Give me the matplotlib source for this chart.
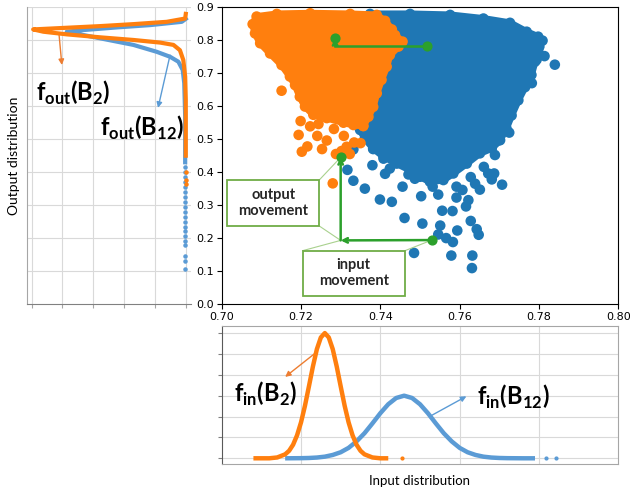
import matplotlib.pyplot as plt
from matplotlib.patches import Rectangle

plt.rcParams["mathtext.fontset"] = "custom"
plt.rcParams["mathtext.bf"] = "Lato:bold"
plt.rcParams["mathtext.rm"] = "Lato"

# colours
c_orange = "#ff7f0e"
c_blue = "#1f77b4"
c_orange_d = "#ff7f0e"
c_blue_d = "#5b9bd5"
c_green = "#2ca02c"
c_box = "#70ad47"
c_grid = "#d9d9d9"

# ---- scatter data ----
# dense part of each cloud, outline
b2_out_x = [0.7078, 0.7088, 0.7139, 0.7223, 0.7324, 0.7391, 0.7412, 0.7429, 0.7437,
            0.7456, 0.7446, 0.7424, 0.7416, 0.7403, 0.7391, 0.7382, 0.7370, 0.7357,
            0.7332, 0.7307, 0.7265, 0.7231, 0.7210, 0.7197, 0.7185, 0.7172, 0.7151,
            0.7122, 0.7097, 0.7084]
b2_out_y = [0.849, 0.872, 0.880, 0.882, 0.880, 0.877, 0.859, 0.833, 0.816,
            0.796, 0.781, 0.755, 0.720, 0.680, 0.639, 0.598, 0.568, 0.540,
            0.543, 0.550, 0.564, 0.574, 0.599, 0.629, 0.664, 0.690, 0.725,
            0.760, 0.791, 0.821]
# loose points
b2_pts_x = [0.7151, 0.7199, 0.7194, 0.7216, 0.7202, 0.7241, 0.7265, 0.7253, 0.7283,
            0.7308, 0.7315, 0.7334, 0.7350, 0.7357, 0.7288, 0.7323, 0.7280, 0.7223,
            0.7244, 0.7302]
b2_pts_y = [0.647, 0.555, 0.513, 0.478, 0.462, 0.510, 0.496, 0.470, 0.531,
            0.510, 0.477, 0.490, 0.488, 0.540, 0.455, 0.455, 0.366, 0.539,
            0.546, 0.464]

b12_out_x = [0.7374, 0.7475, 0.7576, 0.7660, 0.7727, 0.7769, 0.7798, 0.7809, 0.7798,
             0.7790, 0.7781, 0.7765, 0.7748, 0.7731, 0.7718, 0.7702, 0.7681, 0.7651,
             0.7618, 0.7584, 0.7559, 0.7525, 0.7500, 0.7475, 0.7441, 0.7408, 0.7382,
             0.7361, 0.7349, 0.7366, 0.7382, 0.7395, 0.7382]
b12_out_y = [0.880, 0.880, 0.877, 0.866, 0.853, 0.826, 0.811, 0.799, 0.771,
             0.735, 0.695, 0.658, 0.618, 0.572, 0.533, 0.497, 0.472, 0.457,
             0.426, 0.396, 0.376, 0.371, 0.386, 0.406, 0.426, 0.447, 0.472,
             0.502, 0.528, 0.579, 0.669, 0.770, 0.861]
b12_pts_x = [0.7332, 0.7317, 0.7332, 0.7361, 0.7382, 0.7380, 0.7408, 0.7412, 0.7424,
             0.7399, 0.7429, 0.7456, 0.7461, 0.7471, 0.7487, 0.7503, 0.7506, 0.7485,
             0.7532, 0.7546, 0.7556, 0.7551, 0.7546, 0.7566, 0.7579, 0.7583, 0.7582,
             0.7594, 0.7592, 0.7592, 0.7607, 0.7616, 0.7622, 0.7628, 0.7632, 0.7631,
             0.7643, 0.7648, 0.7628, 0.7639, 0.7651, 0.7661, 0.7672, 0.7681, 0.7687,
             0.7689, 0.7707, 0.7709, 0.7725, 0.7695, 0.7700, 0.7794, 0.7814, 0.7840,
             0.7801, 0.7782, 0.7769]
b12_pts_y = [0.469, 0.407, 0.374, 0.350, 0.470, 0.421, 0.441, 0.395, 0.411,
             0.317, 0.310, 0.356, 0.261, 0.393, 0.380, 0.327, 0.244, 0.155,
             0.356, 0.332, 0.283, 0.238, 0.211, 0.200, 0.147, 0.188, 0.282,
             0.223, 0.323, 0.356, 0.346, 0.296, 0.315, 0.252, 0.147, 0.109,
             0.227, 0.210, 0.385, 0.365, 0.347, 0.416, 0.396, 0.378, 0.396,
             0.452, 0.362, 0.589, 0.520, 0.528, 0.497, 0.741, 0.752, 0.726,
             0.781, 0.670, 0.705]

# ---- input distributions (bottom panel) ----
fin_b2_x = [0.708, 0.712, 0.714, 0.716, 0.717, 0.718, 0.719, 0.720, 0.721, 0.722,
            0.723, 0.724, 0.725, 0.726, 0.727, 0.728, 0.729, 0.730, 0.731, 0.732,
            0.733, 0.734, 0.735, 0.736, 0.738, 0.740, 0.742]
fin_b2_y = [0.0, 0.0, 0.04, 0.19, 0.36, 0.65, 1.10, 1.72, 2.52, 3.45,
            4.40, 5.23, 5.79, 6.0, 5.79, 5.23, 4.40, 3.45, 2.52, 1.72,
            1.10, 0.65, 0.36, 0.19, 0.04, 0.0, 0.0]
fin_b12_x = [0.716, 0.720, 0.722, 0.724, 0.726, 0.728, 0.730, 0.732, 0.734, 0.736,
             0.738, 0.740, 0.742, 0.744, 0.746, 0.748, 0.750, 0.752, 0.754, 0.756,
             0.758, 0.760, 0.762, 0.764, 0.766, 0.768, 0.770, 0.772, 0.776, 0.779]
fin_b12_y = [0.0, 0.006, 0.015, 0.036, 0.078, 0.16, 0.29, 0.50, 0.81, 1.20,
             1.67, 2.16, 2.59, 2.89, 3.0, 2.89, 2.59, 2.16, 1.67, 1.20,
             0.81, 0.50, 0.29, 0.16, 0.078, 0.036, 0.015, 0.006, 0.0, 0.0]
fin_b2_tail = [0.7454]
fin_b12_tail = [0.7818, 0.7843]

# ---- output distributions (left panel) ----
fout_b2_u = [0.0, 0.02, 0.62, 1.70, 2.78, 3.86, 4.95, 4.62, 3.86, 2.78, 1.70, 0.83,
             0.40, 0.19, 0.08, 0.02, 0.0, 0.0]
fout_b2_y = [0.880, 0.866, 0.856, 0.849, 0.843, 0.838, 0.833, 0.826, 0.818, 0.809,
             0.801, 0.793, 0.786, 0.770, 0.740, 0.690, 0.620, 0.450]
fout_b12_u = [0.0, 0.13, 1.16, 2.24, 3.32, 3.86, 3.32, 2.78, 1.70, 0.94, 0.51, 0.24,
              0.10, 0.05, 0.02, 0.02]
fout_b12_y = [0.865, 0.856, 0.846, 0.839, 0.831, 0.826, 0.816, 0.806, 0.786, 0.765,
              0.750, 0.735, 0.710, 0.670, 0.570, 0.430]
fout_b2_tail = [0.40, 0.375, 0.365]
fout_b12_tail = [0.415, 0.40, 0.385, 0.37, 0.355, 0.34, 0.325, 0.31, 0.295, 0.28,
                 0.265, 0.25, 0.235, 0.22, 0.205, 0.19, 0.18, 0.146, 0.131, 0.105]

fig = plt.figure(figsize=(6.3, 4.88), dpi=100)

# main scatter
ax = fig.add_axes([0.3519, 0.377, 0.6295, 0.608])
ax.fill(b12_out_x, b12_out_y, color=c_blue, lw=5, joinstyle="round", zorder=2)
ax.scatter(b12_out_x + b12_pts_x, b12_out_y + b12_pts_y, s=58, color=c_blue,
           edgecolors="none", zorder=2)
ax.fill(b2_out_x, b2_out_y, color=c_orange, lw=5, joinstyle="round", zorder=3)
ax.scatter(b2_out_x + b2_pts_x, b2_out_y + b2_pts_y, s=58, color=c_orange,
           edgecolors="none", zorder=3)
ax.set_xlim(0.70, 0.80)
ax.set_ylim(0.0, 0.9)
ax.set_xticks([0.70, 0.72, 0.74, 0.76, 0.78, 0.80])
ax.set_xticklabels(["0.70", "0.72", "0.74", "0.76", "0.78", "0.80"])
ax.set_yticks([0.0, 0.1, 0.2, 0.3, 0.4, 0.5, 0.6, 0.7, 0.8, 0.9])
ax.set_yticklabels(["0.0", "0.1", "0.2", "0.3", "0.4", "0.5", "0.6", "0.7", "0.8", "0.9"])
ax.tick_params(labelsize=8, length=3.5, width=0.8, pad=2)

# green movement arrows
ax.plot([0.7517, 0.7286], [0.783, 0.783], color=c_green, lw=1.8, zorder=5)
ax.annotate("", xy=(0.7286, 0.806), xytext=(0.7286, 0.783),
            arrowprops=dict(arrowstyle="->", color=c_green, lw=1.8, shrinkA=0, shrinkB=0,
                            mutation_scale=8), zorder=5)
ax.scatter([0.7286, 0.7517], [0.806, 0.783], s=40, color=c_green, zorder=6)

ax.annotate("", xy=(0.7300, 0.193), xytext=(0.7530, 0.194),
            arrowprops=dict(arrowstyle="->", color=c_green, lw=1.8, shrinkA=0, shrinkB=0,
                            mutation_scale=8), zorder=5)
ax.annotate("", xy=(0.7300, 0.445), xytext=(0.7300, 0.193),
            arrowprops=dict(arrowstyle="->", color=c_green, lw=1.8, shrinkA=0, shrinkB=0,
                            mutation_scale=8), zorder=5)
ax.scatter([0.7300, 0.7530], [0.445, 0.194], s=40, color=c_green, zorder=6)

# callout boxes
ax.plot([0.7246, 0.7300], [0.3762, 0.445], color="#a9d18e", lw=0.8, zorder=4)
ax.plot([0.7246, 0.7300], [0.2367, 0.193], color="#a9d18e", lw=0.8, zorder=4)
ax.plot([0.7204, 0.7300], [0.1618, 0.193], color="#a9d18e", lw=0.8, zorder=4)
ax.plot([0.7462, 0.7530], [0.1618, 0.194], color="#a9d18e", lw=0.8, zorder=4)
ax.add_patch(Rectangle((0.7014, 0.2367), 0.0232, 0.1395, facecolor="white",
                       edgecolor=c_box, lw=1.3, zorder=7))
ax.add_patch(Rectangle((0.7204, 0.0244), 0.0258, 0.1374, facecolor="white",
                       edgecolor=c_box, lw=1.3, zorder=7))
ax.text(0.7130, 0.3065, "output\nmovement", ha="center", va="center", fontsize=10.5,
        family="Lato", fontweight="bold", color="#262626", linespacing=1.2, zorder=8)
ax.text(0.7333, 0.093, "input\nmovement", ha="center", va="center", fontsize=10.5,
        family="Lato", fontweight="bold", color="#262626", linespacing=1.2, zorder=8)

# left panel: output distribution
axl = fig.add_axes([0.0429, 0.377, 0.2603, 0.608])
axl.plot(fout_b12_u, fout_b12_y, color=c_blue_d, lw=3, solid_joinstyle="round", zorder=3)
axl.scatter([0.02] * len(fout_b12_tail), fout_b12_tail, s=5, color=c_blue_d, zorder=3)
axl.plot(fout_b2_u, fout_b2_y, color=c_orange_d, lw=3, solid_joinstyle="round", zorder=4)
axl.scatter([0.0] * len(fout_b2_tail), fout_b2_tail, s=5, color=c_orange_d, zorder=4)
axl.set_xlim(5.15, -0.17)
axl.set_ylim(0.0, 0.9)
axl.set_xticks([0, 1, 2, 3, 4, 5])
axl.set_yticks([0.1, 0.2, 0.3, 0.4, 0.5, 0.6, 0.7, 0.8, 0.9])
axl.grid(True, color=c_grid, lw=0.8)
axl.set_axisbelow(True)
axl.tick_params(labelbottom=False, labelleft=False, left=False, length=3, color="#a6a6a6")
for s in ["top", "right"]:
    axl.spines[s].set_visible(False)
axl.spines["left"].set_color("#a6a6a6")
axl.spines["bottom"].set_color("#808080")
axl.set_ylabel("Output distribution", family="Lato", fontsize=10, labelpad=5)

axl.annotate("", xy=(4.02, 0.725), xytext=(4.11, 0.816),
             arrowprops=dict(arrowstyle="-|>", color="#ed7d31", lw=1, mutation_scale=8,
                             shrinkA=0, shrinkB=0))
axl.annotate("", xy=(0.90, 0.595), xytext=(0.51, 0.755),
             arrowprops=dict(arrowstyle="-|>", color=c_blue_d, lw=1, mutation_scale=8,
                             shrinkA=0, shrinkB=0))
fig.text(0.1159, 0.8094, r"$\mathbf{f}_{\mathbf{out}}\mathbf{(B}_{\mathbf{2}}\mathbf{)}$",
         ha="center", va="center", fontsize=17)
fig.text(0.2254, 0.7377, r"$\mathbf{f}_{\mathbf{out}}\mathbf{(B}_{\mathbf{12}}\mathbf{)}$",
         ha="center", va="center", fontsize=17)

# bottom panel: input distribution
axb = fig.add_axes([0.3519, 0.0486, 0.6295, 0.2832])
axb.plot(fin_b12_x, fin_b12_y, color=c_blue_d, lw=3.2, solid_capstyle="butt", zorder=3)
axb.scatter(fin_b12_tail, [0.0] * len(fin_b12_tail), s=4, color=c_blue_d, zorder=3)
axb.plot(fin_b2_x, fin_b2_y, color=c_orange_d, lw=3.2, solid_capstyle="butt", zorder=4)
axb.scatter(fin_b2_tail, [0.0] * len(fin_b2_tail), s=4, color=c_orange_d, zorder=4)
axb.set_xlim(0.70, 0.80)
axb.set_ylim(-0.287, 6.335)
axb.set_xticks([0.72, 0.74, 0.76, 0.78])
axb.set_yticks([0, 1, 2, 3, 4, 5, 6])
axb.grid(True, color=c_grid, lw=0.8)
axb.set_axisbelow(True)
axb.tick_params(labelbottom=False, labelleft=False, bottom=False, length=3, color="#808080")
for s in ["top", "right", "bottom"]:
    axb.spines[s].set_color("#a6a6a6")
axb.spines["left"].set_color("#595959")
axb.set_xlabel("Input distribution", family="Lato", fontsize=9.5, labelpad=8)

axb.annotate("", xy=(0.7160, 3.9), xytext=(0.7240, 5.1),
             arrowprops=dict(arrowstyle="-|>", color="#ed7d31", lw=1, mutation_scale=8,
                             shrinkA=0, shrinkB=0))
axb.annotate("", xy=(0.7617, 2.97), xytext=(0.7524, 2.0),
             arrowprops=dict(arrowstyle="-|>", color=c_blue_d, lw=1, mutation_scale=8,
                             shrinkA=0, shrinkB=0))
fig.text(0.4222, 0.1926, r"$\mathbf{f}_{\mathbf{in}}\mathbf{(B}_{\mathbf{2}}\mathbf{)}$",
         ha="center", va="center", fontsize=17)
fig.text(0.8143, 0.1865, r"$\mathbf{f}_{\mathbf{in}}\mathbf{(B}_{\mathbf{12}}\mathbf{)}$",
         ha="center", va="center", fontsize=17)

fig.savefig("out.png", dpi=100)
